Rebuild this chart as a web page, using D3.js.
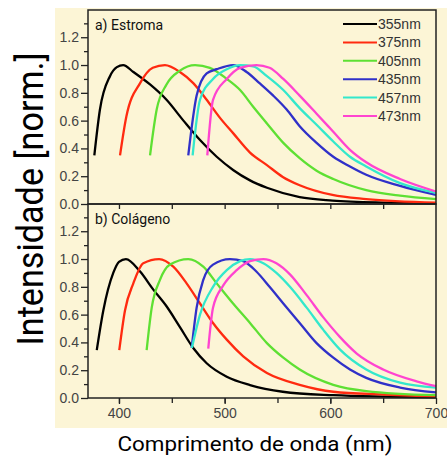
<html>
<script src="https://d3js.org/d3.v7.min.js"></script>
<style>
    body { margin: 0; background: #fff; }
    .tick text { font-family: "Liberation Sans", Arial, sans-serif; font-size: 14px; fill: #444; }
    .lbl { font-family: Roboto, sans-serif; }
</style>
<body>
<div id="chart"></div>
<script>
// excitation wavelengths (legend) and their colours
var legendLabels = ["355nm", "375nm", "405nm", "435nm", "457nm", "473nm"];
var lineColors = ["#000000", "#ff2a10", "#5ee033", "#3030c8", "#33e8cc", "#ff44d0"];
var panelTitles = ["a) Estroma", "b) Colágeno"];
var xTicks = [400, 500, 600, 700];
var yTicks = [0.0, 0.2, 0.4, 0.6, 0.8, 1.0, 1.2];

// panel a) Estroma : [wavelength nm, normalised intensity]
var estroma355 = [[376.7,0.35],[382,0.68],[391.5,0.92],[398,0.985],[404,1.0],[413.6,0.95],[429.4,0.86],[445,0.75],[461,0.60],[476.7,0.46],[492.5,0.34],[508,0.245],[524,0.17],[540,0.117],[571,0.05],[602,0.025],[650,0.01],[700,0.005]];
var estroma375 = [[401,0.35],[407,0.63],[420,0.87],[432,0.98],[443.5,1.0],[457.7,0.95],[470.3,0.87],[483,0.75],[495.6,0.62],[508,0.51],[524,0.37],[540,0.28],[555,0.195],[571,0.135],[602,0.065],[634,0.035],[700,0.01]];
var estroma405 = [[429.4,0.35],[435.7,0.68],[445,0.86],[457.7,0.96],[472,1.0],[486,0.98],[502,0.90],[514.6,0.82],[527,0.70],[540,0.58],[555.5,0.44],[571,0.33],[587,0.24],[602.8,0.18],[634,0.10],[666,0.06],[700,0.035]];
var estroma435 = [[465.6,0.35],[473.5,0.78],[483,0.94],[492.5,0.97],[508,1.0],[520.8,0.95],[533,0.87],[546,0.78],[558.7,0.68],[571,0.56],[587,0.44],[602.8,0.34],[618.6,0.27],[634,0.21],[666,0.13],[700,0.065]];
var estroma457 = [[469.7,0.35],[476.7,0.75],[489,0.90],[502,0.97],[514.6,1.0],[527,0.99],[540,0.92],[555.5,0.82],[571,0.69],[587,0.57],[602.8,0.45],[618.6,0.34],[634,0.27],[666,0.15],[700,0.08]];
var estroma473 = [[483.6,0.35],[489,0.75],[502,0.90],[514.6,0.98],[530,1.0],[542.5,0.98],[555.5,0.90],[571,0.78],[587,0.65],[602.8,0.52],[618.6,0.39],[634,0.30],[666,0.18],[700,0.09]];

// panel b) Colágeno
var colageno355 = [[379,0.345],[385.2,0.63],[394.6,0.90],[400,0.98],[406.6,1.0],[420,0.91],[432.5,0.78],[445,0.66],[457.7,0.51],[470.3,0.36],[483,0.25],[502,0.153],[524,0.093],[555,0.045],[602.8,0.02],[650,0.01],[700,0.005]];
var colageno375 = [[400.3,0.345],[405.7,0.63],[413.6,0.825],[423,0.97],[438,1.0],[451.4,0.945],[464,0.825],[476.7,0.68],[489,0.54],[502,0.42],[517.6,0.30],[540,0.18],[571,0.095],[602.8,0.045],[650,0.025],[700,0.01]];
var colageno405 = [[426.2,0.345],[431,0.65],[438.8,0.85],[448.3,0.96],[465.6,1.0],[479.8,0.945],[492.5,0.825],[508,0.68],[524,0.54],[540,0.395],[555.5,0.29],[571,0.205],[602.8,0.095],[634,0.05],[700,0.02]];
var colageno435 = [[468.8,0.36],[473.5,0.65],[479.8,0.85],[489,0.96],[505,1.0],[517.6,0.985],[530,0.91],[542.5,0.80],[555.5,0.68],[571,0.54],[587,0.395],[602.8,0.29],[618.6,0.205],[634,0.145],[666,0.075],[700,0.04]];
var colageno457 = [[469,0.36],[476.7,0.60],[489,0.80],[502,0.92],[514.6,0.985],[524,1.0],[536.6,0.97],[549,0.90],[561.8,0.80],[577.6,0.65],[593.4,0.49],[609,0.35],[634,0.205],[666,0.11],[700,0.075]];
var colageno473 = [[484.5,0.355],[489,0.65],[498.7,0.81],[511.4,0.92],[524,0.985],[536.6,1.0],[549,0.97],[561.8,0.89],[577.6,0.74],[593.4,0.58],[609,0.44],[625,0.32],[650,0.205],[681.6,0.12],[700,0.085]];

var panels = [
    [estroma355, estroma375, estroma405, estroma435, estroma457, estroma473],
    [colageno355, colageno375, colageno405, colageno435, colageno457, colageno473]
];

var W = 447, H = 459;
var plotLeft = 88, plotRight = 436, plotTop = 10, panelH = 194;

var svg = d3.select("#chart").append("svg")
    .attr("width", W).attr("height", H);

// cream backdrop
svg.append("rect")
    .attr("x", 55).attr("y", 8)
    .attr("width", W - 55).attr("height", 420)
    .attr("fill", "#fcf5d6");

var x = d3.scaleLinear().domain([370.7, 700]).range([plotLeft, plotRight]);

function styleTicks(a) {
    a.select(".domain").remove();
    a.selectAll("line").attr("stroke", "#222").attr("stroke-width", 1.3);
}

panels.forEach(function (series, p) {
    var y0 = plotTop + p * panelH;
    var y = d3.scaleLinear().domain([0, 1.396]).range([y0 + panelH, y0]);

    var g = svg.append("g");

    g.selectAll("path.curve")
        .data(series)
        .enter()
        .append("path")
        .attr("class", "curve")
        .attr("fill", "none")
        .attr("stroke", function (d, i) { return lineColors[i] })
        .attr("stroke-width", 2.3)
        .attr("stroke-linejoin", "round")
        .attr("d", function (d) {
            return d3.line()
                .x(function (e) { return x(e[0]) })
                .y(function (e) { return y(e[1]) })
                .curve(d3.curveMonotoneX)(d);
        });

    // y axis: major labelled ticks and minor ones
    g.append("g")
        .attr("transform", "translate(" + plotLeft + ",0)")
        .call(d3.axisLeft(y).tickValues(yTicks).tickFormat(d3.format(".1f")).tickSize(7).tickPadding(2))
        .call(styleTicks);
    g.append("g")
        .attr("transform", "translate(" + plotLeft + ",0)")
        .call(d3.axisLeft(y).tickValues([0.1, 0.3, 0.5, 0.7, 0.9, 1.1, 1.3]).tickFormat("").tickSize(4))
        .call(styleTicks);

    // x axis at bottom of each panel
    g.append("g")
        .attr("transform", "translate(0," + (y0 + panelH) + ")")
        .call(d3.axisBottom(x).tickValues(p == 1 ? xTicks : []).tickFormat(d3.format("d")).tickSize(6).tickPadding(4))
        .call(styleTicks);
    g.append("g")
        .attr("transform", "translate(0," + (y0 + panelH) + ")")
        .call(d3.axisBottom(x).tickValues([400, 450, 500, 550, 600, 650]).tickFormat("").tickSize(5))
        .call(styleTicks);

    // frame
    g.append("rect")
        .attr("x", plotLeft).attr("y", y0)
        .attr("width", plotRight - plotLeft).attr("height", panelH)
        .attr("fill", "none")
        .attr("stroke", "#222")
        .attr("stroke-width", 1.5);

    g.append("text")
        .attr("class", "lbl")
        .attr("x", plotLeft + 7).attr("y", y0 + 20)
        .attr("font-size", 14)
        .attr("fill", "#111")
        .text(panelTitles[p]);
});

// legend in panel a
var legend = svg.append("g");
legendLabels.forEach(function (lab, i) {
    var ly = 24 + i * 18.4;
    legend.append("line")
        .attr("x1", 343).attr("x2", 377)
        .attr("y1", ly).attr("y2", ly)
        .attr("stroke", lineColors[i])
        .attr("stroke-width", 2);
    legend.append("text")
        .attr("x", 378).attr("y", ly + 5)
        .attr("font-family", "Liberation Sans, Arial, sans-serif")
        .attr("font-size", 14)
        .attr("fill", "#333")
        .text(lab);
});

// axis titles
svg.append("text")
    .attr("class", "lbl")
    .attr("transform", "translate(43,199) rotate(-90)")
    .attr("text-anchor", "middle")
    .attr("font-size", 36)
    .attr("textLength", 293)
    .attr("lengthAdjust", "spacingAndGlyphs")
    .attr("fill", "#000")
    .text("Intensidade [norm.]");

svg.append("text")
    .attr("class", "lbl")
    .attr("x", 255).attr("y", 451)
    .attr("text-anchor", "middle")
    .attr("font-size", 21)
    .attr("textLength", 275)
    .attr("lengthAdjust", "spacingAndGlyphs")
    .attr("fill", "#000")
    .text("Comprimento de onda (nm)");
</script>
</body>
</html>
